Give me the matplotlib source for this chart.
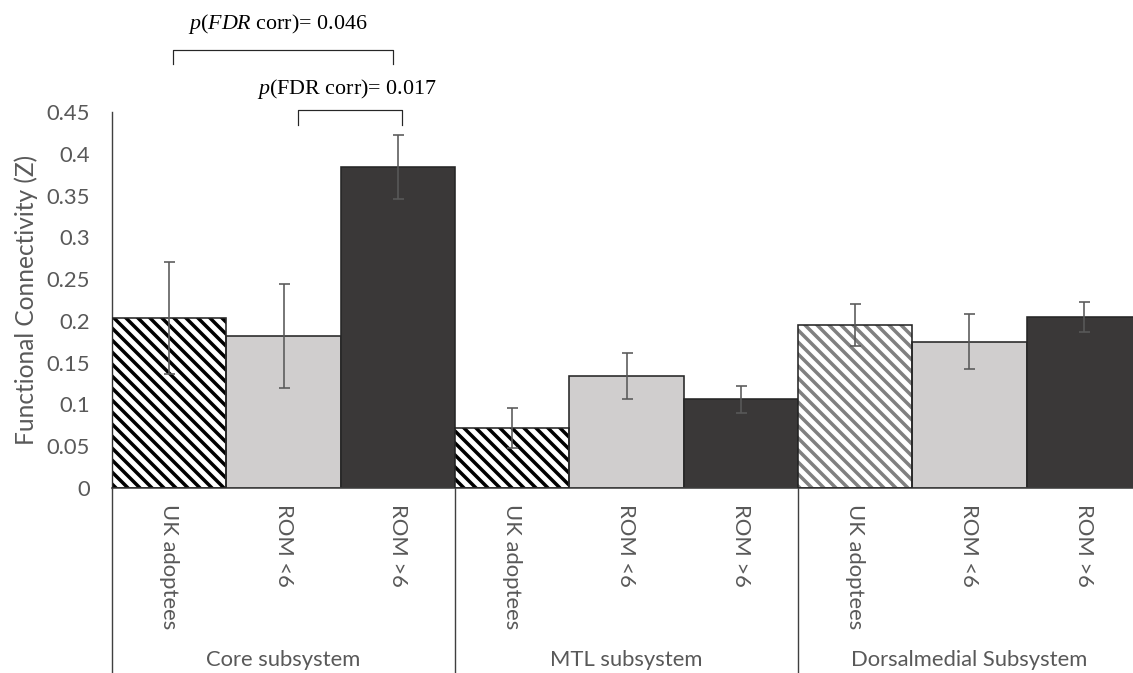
import matplotlib
matplotlib.use('Agg')
import matplotlib.pyplot as plt
import numpy as np

# data
groups = ['Core subsystem', 'MTL subsystem', 'Dorsalmedial Subsystem']
conditions = ['UK adoptees', 'ROM <6', 'ROM >6']
core_means = [0.204, 0.182, 0.384]
core_err = [0.067, 0.062, 0.0385]
mtl_means = [0.072, 0.134, 0.106]
mtl_err = [0.024, 0.028, 0.0165]
dm_means = [0.195, 0.175, 0.205]
dm_err = [0.025, 0.033, 0.018]
yticks = [0, 0.05, 0.1, 0.15, 0.2, 0.25, 0.3, 0.35, 0.4, 0.45]
ytick_labels = ['0', '0.05', '0.1', '0.15', '0.2', '0.25', '0.3', '0.35', '0.4', '0.45']

p_texts = [r'$\mathit{p(FDR}$ corr)= 0.046', r'$\mathit{p}$(FDR corr)= 0.017']

plt.rcParams['mathtext.fontset'] = 'custom'
plt.rcParams['mathtext.rm'] = 'Liberation Serif'
plt.rcParams['mathtext.it'] = 'Liberation Serif:italic'
plt.rcParams['hatch.linewidth'] = 3.5

DPI = 72
FS = 22
fig = plt.figure(figsize=(1133 / DPI, 673 / DPI), dpi=DPI)
ax = fig.add_axes([112 / 1133, 1 - 488 / 673, 1029 / 1133, 376 / 673])

means = core_means + mtl_means + dm_means
errs = core_err + mtl_err + dm_err
x = np.arange(len(means))

fills = ['white', '#D0CECE', '#3A3838']
hatch_cols = ['black', 'black', '#808080']
edge = '#262626'

for i in range(len(means)):
    g, c = divmod(i, 3)
    if c == 0:
        # hatched bar: hatch layer, then outline on top
        ax.bar(x[i], means[i], width=1.0, color='white', edgecolor=hatch_cols[g],
               linewidth=0, hatch='\\\\', zorder=2)
        ax.bar(x[i], means[i], width=1.0, fill=False, edgecolor=edge,
               linewidth=1.6, zorder=3)
    else:
        ax.bar(x[i], means[i], width=1.0, color=fills[c], edgecolor=edge,
               linewidth=1.6, zorder=2)

ax.errorbar(x, means, yerr=errs, fmt='none', ecolor='#595959', elinewidth=1.6,
            capsize=5.5, capthick=1.6, zorder=4)

ax.set_xlim(-0.5, len(means) - 0.5)
ax.set_ylim(0, 0.45)
ax.set_yticks(yticks)
ax.set_yticklabels(ytick_labels)
ax.tick_params(axis='y', length=0, pad=22, labelsize=FS, labelcolor='#595959')
for lab in ax.get_yticklabels():
    lab.set_family('Lato')

ax.set_xticks(x)
ax.set_xticklabels(conditions * 3, rotation=270, family='Lato', fontsize=FS,
                   color='#595959', va='top', ha='center')
ax.tick_params(axis='x', length=0, pad=16)

ax.set_ylabel('Functional Connectivity (Z)', family='Lato', fontsize=24.5,
              color='#595959', labelpad=8)

for s in ['top', 'right']:
    ax.spines[s].set_visible(False)
ax.spines['left'].set_color('#404040')
ax.spines['left'].set_linewidth(1.4)
ax.spines['bottom'].set_color('#404040')
ax.spines['bottom'].set_linewidth(1.6)

# group separators extending below the axis
trans = ax.get_xaxis_transform()
for b in [-0.5, 2.5, 5.5, 8.5]:
    ax.plot([b, b], [0, -0.5], transform=trans, color='#404040', lw=1.4,
            clip_on=False)
for g, name in enumerate(groups):
    ax.text(3 * g + 1, -0.457, name, transform=trans, ha='center', va='center',
            family='Lato', fontsize=FS, color='#595959')

# significance brackets
br = dict(color='#262626', lw=1.2, clip_on=False)
ax.plot([0.034, 0.034, 1.958, 1.958], [0.508, 0.524, 0.524, 0.508], **br)
ax.plot([1.127, 1.127, 2.037, 2.037], [0.434, 0.452, 0.452, 0.434], **br)
ax.text(0.952, 0.555, p_texts[0], ha='center', va='center', fontsize=FS,
        family='Liberation Serif', color='black', clip_on=False)
ax.text(1.556, 0.477, p_texts[1], ha='center', va='center', fontsize=FS,
        family='Liberation Serif', color='black', clip_on=False)

fig.savefig('out.png', dpi=DPI)
